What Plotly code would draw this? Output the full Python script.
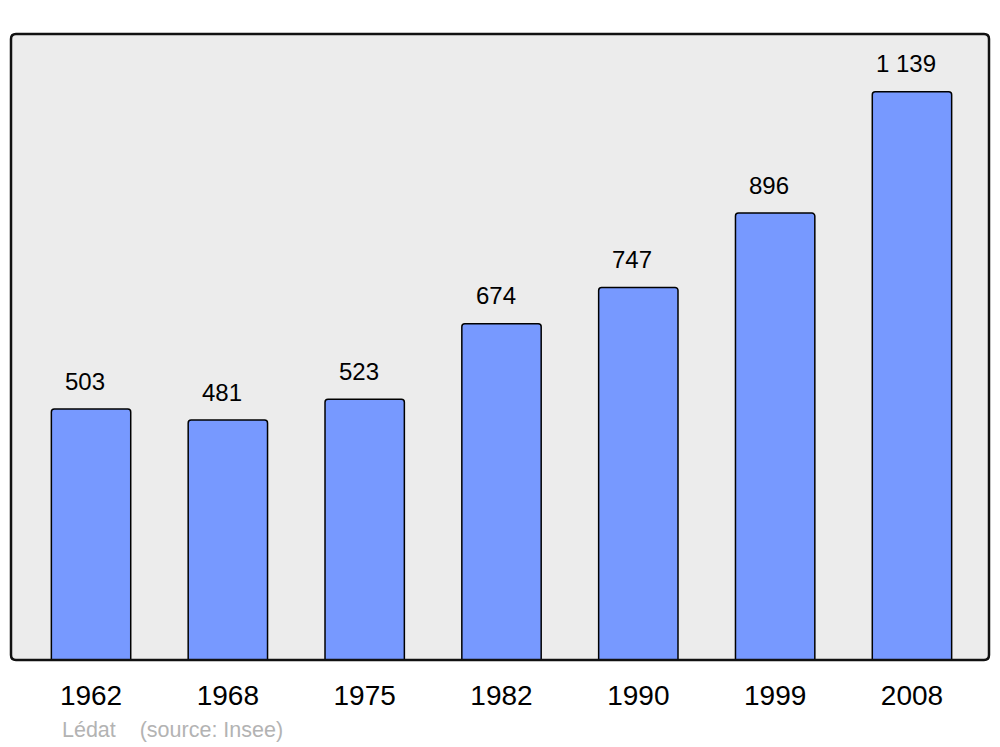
import plotly.graph_objects as go

years = ["1962", "1968", "1975", "1982", "1990", "1999", "2008"]
population = [503, 481, 523, 674, 747, 896, 1139]
source_label = "Lédat    (source: Insee)"

def fmt(v):
    return f"{v:,}".replace(",", " ")

idx = list(range(len(years)))

fig = go.Figure()
fig.add_trace(go.Bar(
    x=idx, y=population, width=0.58,
    marker=dict(color="#7799ff", line=dict(color="black", width=1.5), cornerradius=3),
    hoverinfo="skip",
))

for i, v in zip(idx, population):
    fig.add_annotation(x=i, y=v, text=fmt(v), showarrow=False, xref="x", yref="y",
                       yanchor="middle", xanchor="center", yshift=28, xshift=-6,
                       font=dict(family="Liberation Sans, Arial", size=24, color="black"))

fig.add_annotation(
    xref="paper", yref="paper",
    x=(60 - 11) / 978, y=(660 - 730) / 626,
    xanchor="left", yanchor="middle", showarrow=False, text=source_label,
    font=dict(family="Liberation Sans, Arial", size=21.5, color="#b3b3b3"),
)

# rounded border
W, H = 978, 626
rx, ry = 5 / W, 5 / H
path = (f"M {rx},0 L {1-rx},0 Q 1,0 1,{ry} L 1,{1-ry} Q 1,1 {1-rx},1 "
        f"L {rx},1 Q 0,1 0,{1-ry} L 0,{ry} Q 0,0 {rx},0 Z")
fig.add_shape(type="path", path=path, xref="paper", yref="paper",
              line=dict(color="#111111", width=2.5), layer="above")

fig.update_layout(
    width=1000, height=747,
    margin=dict(l=11, r=11, t=34, b=87),
    paper_bgcolor="white", plot_bgcolor="#ececec",
    showlegend=False,
    font=dict(family="Liberation Sans, Arial", color="black"),
    xaxis=dict(range=[-0.585, 6.563], showgrid=False, zeroline=False,
               tickvals=idx, ticktext=years,
               showline=False, tickfont=dict(size=28, color="black"), ticks="",
               ticklabelstandoff=16, fixedrange=True),
    yaxis=dict(range=[0, 1255], showgrid=False, zeroline=False, showline=False,
               showticklabels=False, ticks="", fixedrange=True),
)

fig.write_html("out.html", config={"displayModeBar": False},
               post_script="document.body.style.margin='0';")
